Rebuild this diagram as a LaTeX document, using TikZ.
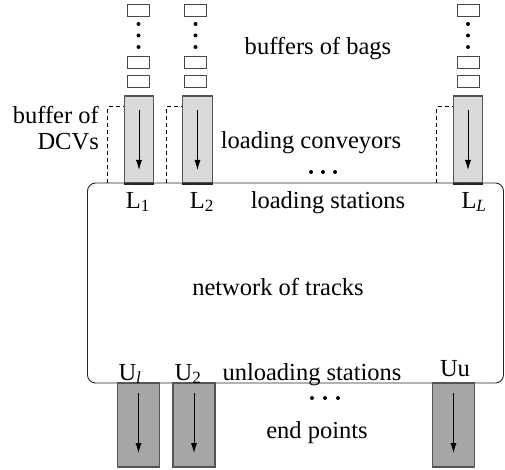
\documentclass[tikz,border=0pt]{standalone}
\usepackage{fontspec}
\setmainfont{Liberation Serif}
\usetikzlibrary{arrows.meta,calc}
\begin{document}
\begin{tikzpicture}[x=1pt,y=-1pt,
  every node/.style={font=\fontsize{24.5}{28}\selectfont, inner sep=0pt},
  lconv/.style={draw=black!67, line width=1.2pt, fill=black!15, minimum width=29.5pt, minimum height=87pt},
  uconv/.style={draw=black!67, line width=1.2pt, fill=black!35, minimum width=42pt, minimum height=84pt},
  bag/.style={draw=black!72, line width=1pt, fill=white, minimum width=22pt, minimum height=12pt},
  flow/.style={-{Latex[length=10pt,width=6pt]}, line width=0.8pt},
  buf/.style={line width=0.8pt, dash pattern=on 4pt off 3pt},
  base/.style={draw=black!85, line width=2pt},
  lbl/.style={anchor=base}
]
\useasboundingbox (0,0) rectangle (505,470);

% network of tracks
\node[draw=black!85, line width=0.9pt, rounded corners=8pt, minimum width=416pt, minimum height=200pt] (net) at (295.5,283) {};
\node[lbl] (nettxt) at (278,295) {network of tracks};

% loading conveyors
\node[lconv] (c1) at (139,139.5) {};
\node[lconv] (c2) at (197.5,139.5) {};
\node[lconv] (cL) at (468,139.5) {};
\foreach \c in {c1,c2,cL}{
  \draw[base] (\c.south west) -- (\c.south east);
  \draw[flow] ($(\c.center)+(0,-29.5)$) -- ($(\c.center)+(0,30.5)$);
  \coordinate (\c buf) at ($(\c.north west)+(-16,11)$);
  \draw[buf] (\c buf |- net.north) -- (\c buf) -- (\c buf -| \c.west);
}

% buffers of bags
\foreach \c/\x in {c1/138.5,c2/195.5,cL/468}{
  \node[bag] (\c bagA) at (\x,11) {};
  \node[bag] (\c bagB) at (\x,63) {};
  \node[bag] (\c bagC) at (\x,82) {};
  \foreach \y in {24,35.5,47} \fill (\x,\y) circle (2pt);
}

% unloading conveyors
\node[uconv] (u1) at (138.5,425) {};
\node[uconv] (u2) at (194,425) {};
\node[uconv] (uu) at (453.5,425) {};
\foreach \c in {u1,u2,uu}{
  \draw[flow] ($(\c.center)+(0,-32)$) -- ($(\c.center)+(0,28)$);
}

% dots
\foreach \x in {311,323,335} \fill (\x,172) circle (2pt);
\foreach \x in {312,325,338} \fill (\x,398) circle (2pt);

% labels
\node[lbl] (tbags) at (318,55) {buffers of bags};
\node[lbl] (tconv) at (311,149) {loading conveyors};
\node[anchor=base east] (tbuf1) at (99,124) {buffer of};
\node[anchor=base east] (tbuf2) at (99,150) {DCVs};
\node[lbl] (tL1) at (138,208) {L\textsubscript{1}};
\node[lbl] (tL2) at (202,208) {L\textsubscript{2}};
\node[lbl] (tLL) at (474,208) {L\textsubscript{\textit{L}}};
\node[lbl] (tls) at (328,208) {loading stations};
\node[lbl] (tU1) at (130,380) {U\textsubscript{\textit{l}}};
\node[lbl] (tU2) at (188,380) {U\textsubscript{2}};
\node[lbl] (tUu) at (455,376) {Uu};
\node[lbl] (tus) at (312,380) {unloading stations};
\node[lbl] (tend) at (317,438) {end points};
\end{tikzpicture}
\end{document}
